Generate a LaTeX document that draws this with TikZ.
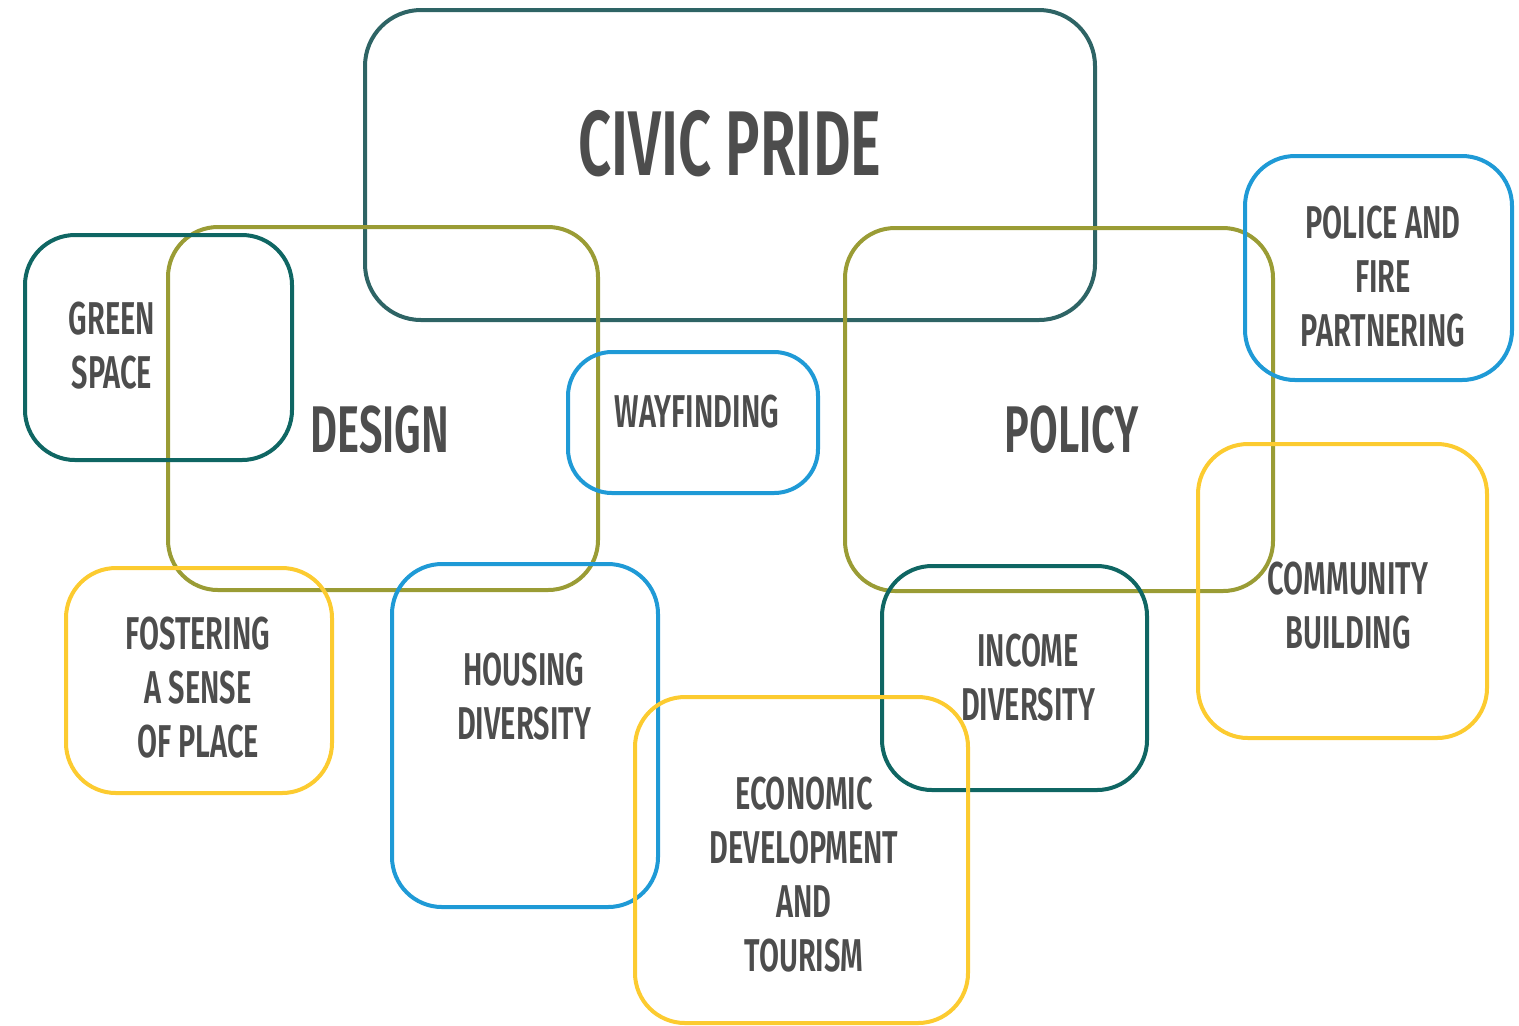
\documentclass[tikz,border=0pt]{standalone}
\usepackage{fontspec}
\setmainfont{Fira Sans}[FakeStretch=0.63, BoldFont={Fira Sans SemiBold}]
\definecolor{pridecol}{HTML}{2E6465}
\definecolor{tealcol}{HTML}{0F6663}
\definecolor{olivecol}{HTML}{9A9C35}
\definecolor{bluecol}{HTML}{1F9AD6}
\definecolor{yellowcol}{HTML}{FCCB30}
\definecolor{txtcol}{HTML}{4D4D4D}

\tikzset{
  lbl/.style={text=txtcol, font=\bfseries\fontsize{23}{27}\selectfont, align=center, inner sep=0pt},
  biglbl/.style={lbl, font=\bfseries\fontsize{33}{38}\selectfont},
}

\begin{document}
\begin{tikzpicture}[x=0.5pt, y=-0.5pt, line width=2pt, rounded corners=25pt]
\useasboundingbox (0,0) rectangle (1519,1025);

% main areas
\path[draw=pridecol, rounded corners=28pt] (365,10) rectangle (1095,320);
\path[draw=olivecol] (168,227) rectangle (598,590);
\path[draw=olivecol] (845,228) rectangle (1273,591);

% topics
\path[draw=tealcol] (25,235) rectangle (292,460);
\path[draw=bluecol, rounded corners=22pt] (568,352) rectangle (818,493);
\path[draw=bluecol] (1245,156) rectangle (1512,380);
\path[draw=yellowcol] (1198,444) rectangle (1487,738);
\path[draw=yellowcol] (66,568) rectangle (332,793);
\path[draw=bluecol] (392,564) rectangle (658,907);
\path[draw=tealcol] (882,566) rectangle (1147,790);
\path[draw=yellowcol] (635,697) rectangle (968,1023);

% labels
\node[lbl, font=\bfseries\fontsize{46}{50}\selectfont] (pride) at (730,144) {CIVIC PRIDE};
\node[biglbl] (design) at (380,430) {DESIGN};
\node[biglbl] (policy) at (1072,430) {POLICY};
\node[lbl] (green) at (112,346) {GREEN\\SPACE};
\node[lbl] (wayfind) at (697,412) {WAYFINDING};
\node[lbl] (police) at (1383,277) {POLICE AND\\FIRE\\PARTNERING};
\node[lbl] (community) at (1348,606) {COMMUNITY\\BUILDING};
\node[lbl] (fostering) at (198,688) {FOSTERING\\A SENSE\\OF PLACE};
\node[lbl] (housing) at (524,697) {HOUSING\\DIVERSITY};
\node[lbl] (income) at (1028,678) {INCOME\\DIVERSITY};
\node[lbl] (economic) at (804,875) {ECONOMIC\\DEVELOPMENT\\AND\\TOURISM};
\end{tikzpicture}
\end{document}
